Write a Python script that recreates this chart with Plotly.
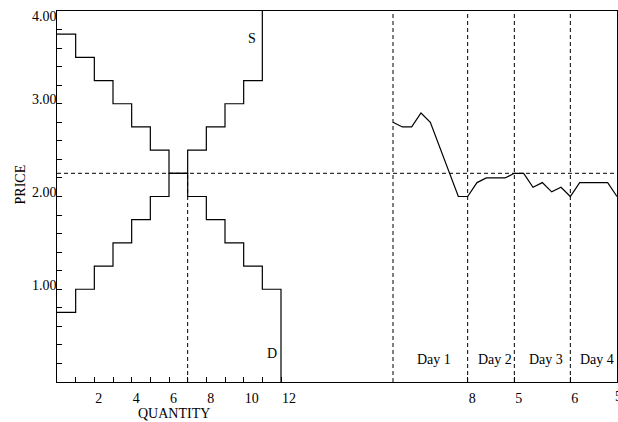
import numpy as np
import plotly.graph_objects as go

# ---------------- data ----------------
demand_prices = [3.75, 3.50, 3.25, 3.00, 2.75, 2.50, 2.25, 2.00, 1.75, 1.50, 1.25, 1.00]
supply_prices = [0.75, 1.00, 1.25, 1.50, 1.75, 2.00, 2.25, 2.50, 2.75, 3.00, 3.25]
eq_price = 2.25
eq_quantity = 7

day1_trades = [2.80, 2.75, 2.75, 2.90, 2.80, 2.53, 2.27, 2.00]
day2_trades = [2.00, 2.15, 2.20, 2.20, 2.20]
day3_trades = [2.25, 2.25, 2.10, 2.15, 2.05, 2.10]
day4_trades = [2.00, 2.15, 2.15, 2.15, 2.15]
day5_trades = [2.00]
day_names = ["Day 1", "Day 2", "Day 3", "Day 4"]

x_tick_labels_qty = ["2", "4", "6", "8", "10", "12"]
y_tick_values = [1.0, 2.0, 3.0, 4.0]
y_tick_labels = ["1.00", "2.00", "3.00", "4.00"]

# ---------------- layout constants ----------------
X_MAX = 30
Y_MAX = 4.0
TRADE_START = 18
TRADE_STEP = 0.5
FONT = "Liberation Serif"
FS = 14
TF = dict(family=FONT, size=FS, color="black")

fig = go.Figure()

# demand step curve
n_d = len(demand_prices)
dx = list(range(n_d)) + [n_d, n_d]
dy = demand_prices + [demand_prices[-1], 0]
fig.add_trace(go.Scatter(x=dx, y=dy, mode="lines", line=dict(color="black", width=1.2, shape="hv"),
                         hoverinfo="skip"))

# supply step curve
n_s = len(supply_prices)
sx = list(range(n_s)) + [n_s, n_s]
sy = supply_prices + [supply_prices[-1], Y_MAX]
fig.add_trace(go.Scatter(x=sx, y=sy, mode="lines", line=dict(color="black", width=1.2, shape="hv"),
                         hoverinfo="skip"))

# trade prices
all_trades = day1_trades + day2_trades + day3_trades + day4_trades + day5_trades
tx = [TRADE_START + TRADE_STEP * i for i in range(len(all_trades))]
fig.add_trace(go.Scatter(x=tx, y=all_trades, mode="lines", line=dict(color="black", width=1.2),
                         hoverinfo="skip"))

# day boundaries
day_counts = [len(day1_trades), len(day2_trades), len(day3_trades), len(day4_trades)]
bounds = [TRADE_START]
for c in day_counts:
    bounds.append(bounds[-1] + TRADE_STEP * c)

dash = "4px,3px"
fig.add_shape(type="line", xref="x", yref="y", x0=0, x1=X_MAX, y0=eq_price, y1=eq_price,
              line=dict(color="black", width=1, dash=dash))
fig.add_shape(type="line", xref="x", yref="y", x0=eq_quantity, x1=eq_quantity, y0=0, y1=eq_price,
              line=dict(color="black", width=1, dash=dash))
for b in bounds[:-1]:
    fig.add_shape(type="line", xref="x", yref="y", x0=b, x1=b, y0=0, y1=Y_MAX,
                  line=dict(color="black", width=1, dash=dash))

# text labels
fig.add_annotation(x=10.45, y=3.70, text="S", showarrow=False, font=TF)
fig.add_annotation(x=11.5, y=0.31, text="D", showarrow=False, font=TF)
for i, name in enumerate(day_names):
    mid = (bounds[i] + bounds[i + 1]) / 2 + 0.2
    fig.add_annotation(x=mid, y=0.245, text=name, showarrow=False, font=TF)

fig.add_annotation(x=6.27, xref="x", y=0, yref="paper", yshift=-31, text="QUANTITY", showarrow=False,
                   xanchor="center", yanchor="middle", font=TF)
fig.add_annotation(x=0, xref="paper", xshift=-37, y=2.13, yref="y", text="PRICE", showarrow=False,
                   textangle=-90, xanchor="center", yanchor="middle", font=TF)

# y tick labels (placed over the axis line like the reference)
for v, lbl in zip(y_tick_values, y_tick_labels):
    fig.add_annotation(x=0, xref="paper", xshift=2, y=v, yref="y", yshift=(-5 if v >= Y_MAX else 4),
                       text=lbl, showarrow=False, xanchor="right", yanchor="middle", font=TF)

# axes ticks
x_tickvals = list(range(1, 13)) + bounds[1:-1]
x_ticktext = []
for v in range(1, 13):
    x_ticktext.append(str(v) if str(v) in x_tick_labels_qty else "")
x_ticktext += [str(c) for c in day_counts[:-1]]

# last day's count sits at the right edge, pulled slightly inward as in the reference
fig.add_annotation(x=bounds[-1], xref="x", xshift=-4, y=0, yref="paper", yshift=-14,
                   text=str(day_counts[-1]), showarrow=False, xanchor="left", yanchor="middle", font=TF)

y_minor = [round(v, 1) for v in np.arange(0.2, Y_MAX + 0.01, 0.2)]

fig.update_xaxes(range=[0, X_MAX], showgrid=False, zeroline=False, showline=True, linecolor="black",
                 linewidth=1, mirror=True, ticks="inside", ticklen=5, tickcolor="black",
                 tickvals=x_tickvals, ticktext=x_ticktext, ticklabelposition="outside right",
                 ticklabelstandoff=3, automargin=False, ticklabeloverflow="allow",
                 tickfont=TF)
fig.update_yaxes(range=[0, Y_MAX], showgrid=False, zeroline=False, showline=True, linecolor="black",
                 linewidth=1, mirror=True, ticks="inside", ticklen=5, tickcolor="black",
                 tickvals=y_minor, showticklabels=False, automargin=False)

fig.update_layout(width=618, height=422, margin=dict(l=57, r=1, t=11, b=40, autoexpand=False),
                  paper_bgcolor="white", plot_bgcolor="white", showlegend=False)

fig.write_html("out.html", config={"displayModeBar": False},
               post_script="document.body.style.margin='0';document.body.style.overflow='hidden';")
